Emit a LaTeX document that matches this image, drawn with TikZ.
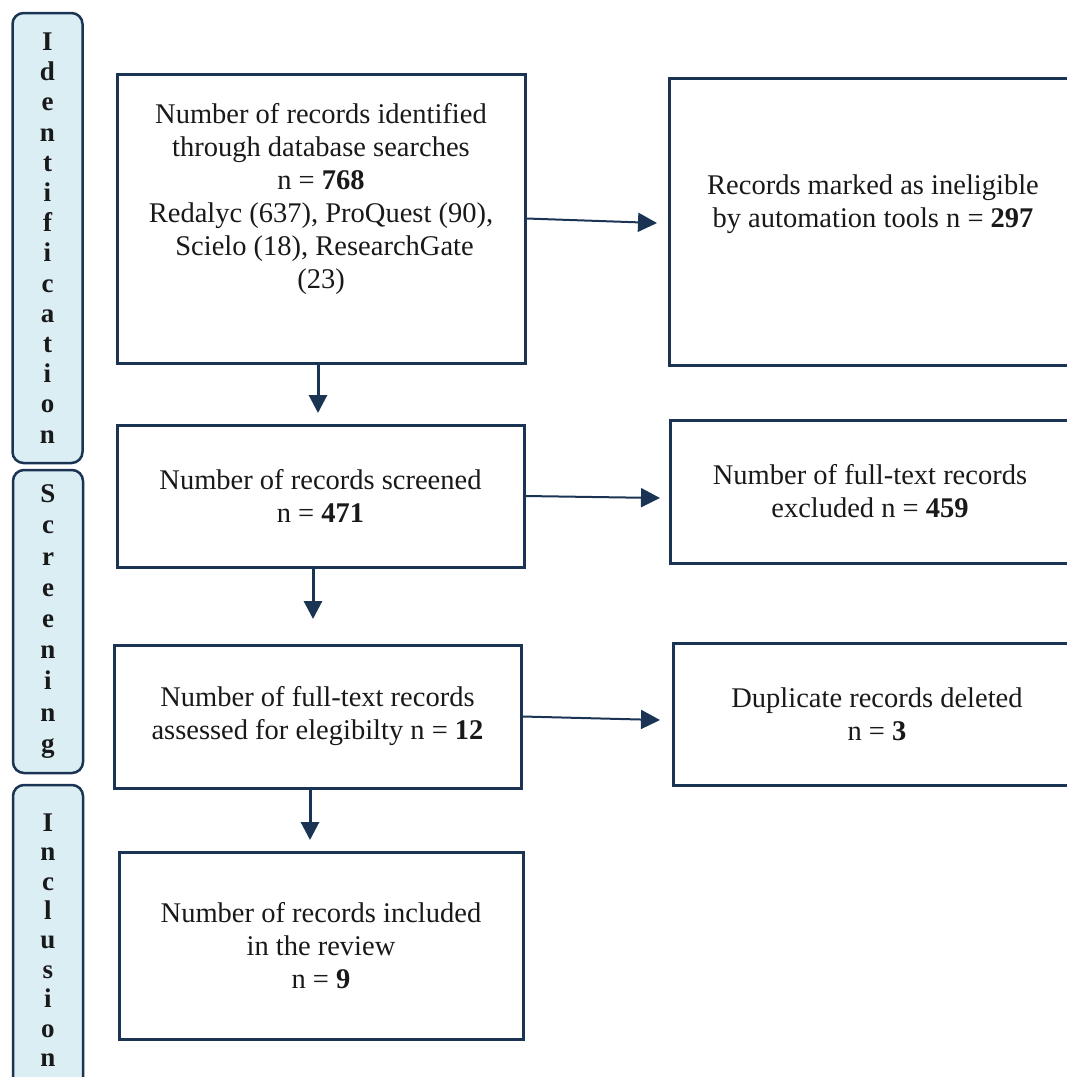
\documentclass[tikz,border=0pt]{standalone}
\usepackage{fontspec}
\setmainfont{Liberation Serif}
\usetikzlibrary{arrows.meta}
\definecolor{navy}{RGB}{28,52,84}
\definecolor{sidefill}{RGB}{219,238,244}
\definecolor{txtcol}{RGB}{25,25,25}
\begin{document}
\begin{tikzpicture}[x=1pt,y=-1pt,
  box/.style={draw=navy, line width=3pt, rectangle, align=center,
    font=\fontsize{28.5}{33}\selectfont, text=txtcol, inner sep=0pt},
  side/.style={draw=navy, line width=2.5pt, fill=sidefill, rounded corners=11pt,
    rectangle, minimum width=70pt, inner sep=0pt, align=center, text=txtcol},
  arr/.style={draw=navy, line width=2pt, -{Triangle[length=19pt,width=19pt]}},
  varr/.style={draw=navy, line width=3pt, -{Triangle[length=18pt,width=18pt]}}]
\useasboundingbox (0,0) rectangle (1067,1077);
\clip (0,0) rectangle (1067,1077);

% side stage labels
\node[side, minimum height=450pt, font=\bfseries\fontsize{27}{30.2}\selectfont] (ident) at (47.5,238)
  {I\\d\\e\\n\\t\\i\\f\\i\\c\\a\\t\\i\\o\\n};
\node[side, minimum height=303pt, font=\bfseries\fontsize{27}{31.2}\selectfont] (screen) at (48,621.5)
  {S\\c\\r\\e\\e\\n\\i\\n\\g};
\node[side, minimum height=310pt, font=\bfseries\fontsize{27}{29.4}\selectfont] (incl) at (48,940)
  {I\\n\\c\\l\\u\\s\\i\\o\\n};

% main boxes
\node[box, minimum width=408pt, minimum height=289pt] (A) at (321,218.5)
  {Number of records identified\\through database searches\\n = \textbf{768}\\
   Redalyc (637), ProQuest (90),\\\ Scielo (18), ResearchGate\\(23)\\[12.7pt]\mbox{}};
\node[box, minimum width=408pt, minimum height=287pt] (B) at (873,221.5)
  {Records marked as ineligible\\by automation tools n = \textbf{297}\\[8.7pt]\mbox{}};
\node[box, minimum width=407pt, minimum height=142pt] (C) at (320.5,496)
  {Number of records screened\\n = \textbf{471}};
\node[box, minimum width=400pt, minimum height=143pt] (D) at (870,491.5)
  {Number of full-text records\\excluded n = \textbf{459}};
\node[box, minimum width=407pt, minimum height=143pt] (E) at (317.5,716.5)
  {Number of full-text records\\assessed for elegibilty n = \textbf{12}};
\node[box, minimum width=408pt, minimum height=142pt] (F) at (877,714)
  {Duplicate records deleted\\n = \textbf{3}};
\node[box, minimum width=404pt, minimum height=187pt] (G) at (321,945.5)
  {Number of records included\\in the review\\n = \textbf{9}};

% connector ends
\coordinate (ab) at (657,223);
\coordinate (cd) at (660,498);
\coordinate (ef) at (660,720);
\coordinate (ac) at (318,413);
\coordinate (ce) at (313,619);
\coordinate (eg) at (310,840);

\draw[arr] (A.east) -- (ab);
\draw[arr] (C.east) -- (cd);
\draw[arr] (E.east) -- (ef);
\draw[varr] (A.south -| ac) -- (ac);
\draw[varr] (C.south -| ce) -- (ce);
\draw[varr] (E.south -| eg) -- (eg);
\end{tikzpicture}
\end{document}
